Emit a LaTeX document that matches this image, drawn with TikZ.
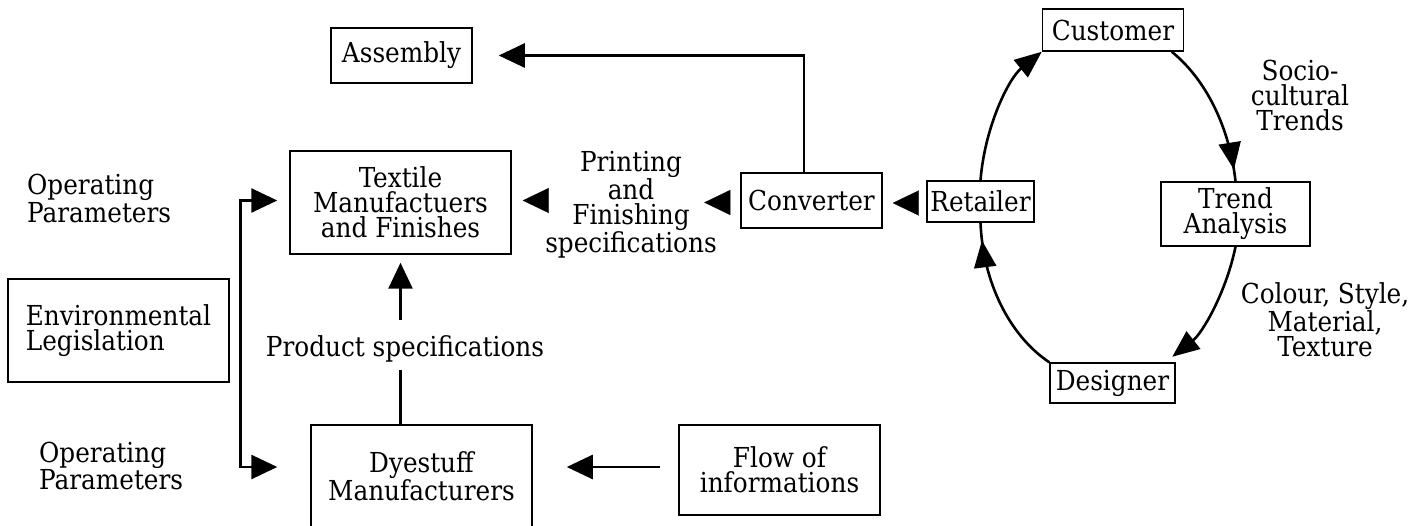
\documentclass[tikz,border=0pt]{standalone}
\usepackage{fontspec}
\setmainfont{DejaVu Serif Condensed}
\usetikzlibrary{arrows.meta,calc,decorations.markings}
\begin{document}
\begin{tikzpicture}[x=1pt,y=-1pt,
  font=\fontsize{27.5}{25}\selectfont,
  box/.style={draw,line width=1.5pt,inner sep=0pt,align=center,fill=white},
  lbl/.style={inner sep=0pt,align=center},
  conn/.style={line width=2.7pt},
  tri/.style={-{Triangle[length=26pt,width=24pt]}},
  bitri/.style={{Triangle[length=26pt,width=24pt]}-{Triangle[length=26pt,width=24pt]}},
  headonly/.style={draw=white,line width=0.1pt,-{Triangle[length=26pt,width=25pt,color=black]}},
  cycle/.style={line width=2.6pt},
  cyclehead/.style={-{Triangle[length=27pt,width=22pt]}},
  midhead/.style={decoration={markings,
      mark=at position #1 with {\arrow{Triangle[length=27pt,width=22pt]}}},
      postaction={decorate}},
]
\useasboundingbox (0,0) rectangle (1421,526);
\clip (0,0) rectangle (1421,526);

% boxes
\node[box,minimum width=141pt,minimum height=55pt] (assembly) at (401.5,55.5) {Assembly};
\node[box,minimum width=221pt,minimum height=103pt] (textile) at (400.5,202.5) {Textile\\Manufactuers\\and Finishes};
\node[box,minimum width=141pt,minimum height=55pt] (converter) at (811.5,200.5) {Converter};
\node[box,minimum width=107pt,minimum height=41pt] (retailer) at (980.5,201.5) {Retailer};
\node[box,minimum width=141pt,minimum height=42pt] (customer) at (1113,30) {Customer};
\node[box,minimum width=149pt,minimum height=64pt] (trend) at (1235.5,214) {Trend\\Analysis};
\node[box,minimum width=125pt,minimum height=40pt] (designer) at (1112.5,383) {Designer};
\node[box,align=left,minimum width=221pt,minimum height=103pt] (env) at (118.5,330.5) {Environmental\\Legislation};
\node[box,minimum width=221pt,minimum height=103pt] (dye) at (421.5,476.5) {Dyestuff\\Manufacturers};
\node[box,minimum width=201pt,minimum height=90pt] (flow) at (779.5,470) {Flow of\\informations};

% free labels
\node[lbl,align=left,anchor=west] (op1) at (27,198.5) {Operating\\Parameters};
\node[lbl,align=left,anchor=west] (op2) at (39,466) {Operating\\Parameters};
\node[lbl] (prodspec) at (405,349) {Product specifications};
\node[lbl] (printing) at (631,205) {Printing\\and\\Finishing\\specifications};
\node[lbl] (socio) at (1300,95) {Socio-\\cultural\\Trends};
\node[lbl] (colour) at (1325,320) {Colour, Style,\\Material,\\Texture};

% supply chain connectors
\draw[conn,tri] ($(converter.north)+(-7.5,0)$) |- ($(assembly.east)+(26,0)$);
\draw[conn] (dye.north -| textile.south) -- ($(prodspec.south -| textile.south)+(0,7)$);
\draw[conn,tri] ($(prodspec.north -| textile.south)+(0,-15)$) -- ($(textile.south)+(0,8)$);
\draw[conn,tri] ($(flow.west)+(-18,-3)$) -- ($(dye.east |- flow.west)+(34,-3)$);
\draw[conn,bitri] ($(textile.west)+(-12,-2)$) -| ($(dye.west)+(-70,-9.5)$) -- ($(dye.west)+(-33,-9.5)$);
\draw[headonly] ($(retailer.west)+(-10,1.5)$) -- ($(converter.east)+(10,2.5)$);
\draw[headonly] ($(converter.west)+(-10,2)$) -- ($(converter.west)+(-36,2)$);
\draw[headonly] ($(textile.east)+(38,-2)$) -- ($(textile.east)+(11,-2)$);

% trend cycle
\draw[cycle,midhead=0.92] ($(customer.south east)+(-12.5,0)$)
  .. controls (1205.9,79.4) and (1229.6,127.4) .. (trend.north);
\draw[cycle,cyclehead] (trend.south)
  .. controls (1226,293) and (1202.1,333.3) .. ($(designer.north east)+(-3.5,-5.5)$);
\draw[cycle,midhead=0.89] (designer.north west)
  .. controls (1009.9,336.0) and (982.9,282.6) .. (retailer.south);
\draw[cycle,cyclehead] (retailer.north)
  .. controls (984.9,126.0) and (1008.9,78.3) .. (customer.south west);
\end{tikzpicture}
\end{document}
